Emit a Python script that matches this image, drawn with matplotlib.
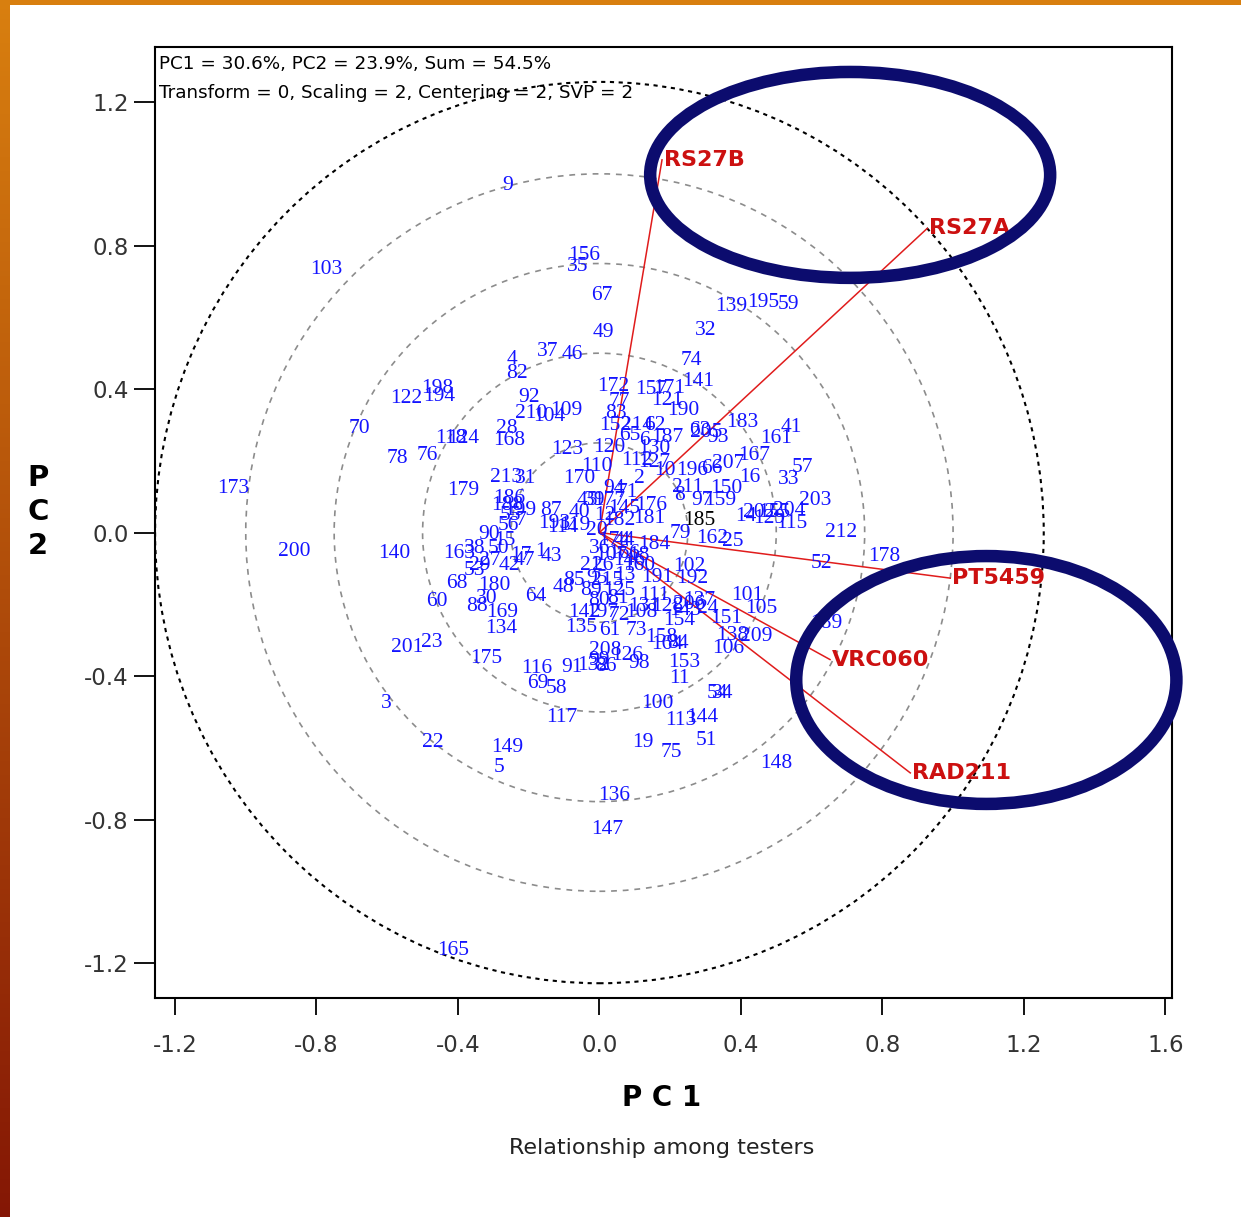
import matplotlib
matplotlib.use('Agg')
import matplotlib.pyplot as plt
import numpy as np
from matplotlib.patches import Circle, Ellipse, Rectangle

# testers (environment vectors)
testers = ["RS27B", "RS27A", "PT5459", "VRC060", "RAD211"]
tx = [0.177, 0.927, 0.992, 0.652, 0.879]
ty = [1.039, 0.848, -0.127, -0.354, -0.670]

# genotypes
g_lab = ["9", "103", "156", "35", "67", "49", "37", "46", "4", "82",
         "139", "195", "59", "32", "74", "141", "172", "77", "83", "157",
         "121", "190", "171", "183", "41", "161", "167", "207", "57", "16",
         "33", "203", "205", "93", "150", "196", "66", "185", "212", "52",
         "178", "115", "25", "162", "79", "181", "176", "184", "102", "191",
         "192", "101", "105", "189", "131", "128", "206", "24", "151", "73",
         "158", "84", "164", "138", "209", "106", "153", "11", "126", "98",
         "34", "54", "100", "113", "144", "19", "75", "51", "148", "136",
         "147", "165", "88", "169", "134", "201", "23", "175", "116", "69",
         "58", "91", "132", "86", "117", "3", "22", "149", "5", "135",
         "142", "197", "179", "186", "87", "45", "114", "140", "163", "90",
         "1", "43", "68", "180", "60", "30", "64", "48", "85", "122",
         "194", "198", "70", "78", "76", "118", "124", "92", "28", "168",
         "109", "210", "104", "123", "213", "31", "170", "120", "110", "173",
         "200", "152", "214", "62", "112", "127", "211", "94", "71", "2",
         "12", "36", "107", "26", "215", "13", "21", "125", "81", "174",
         "44", "18", "145", "39", "40", "119", "202", "155", "14", "204",
         "129", "159", "97", "8", "10", "130", "6", "187", "63", "65",
         "7", "15", "17", "27", "29", "38", "42", "47", "50", "53",
         "55", "56", "61", "72", "80", "89", "95", "99", "108", "111",
         "137", "143", "146", "160", "166", "177", "182", "188", "193", "199",
         "208", "20", "154"]
g_x = [-0.260, -0.772, -0.042, -0.062, 0.006, 0.011, -0.147, -0.076, -0.246, -0.232,
       0.373, 0.464, 0.534, 0.300, 0.260, 0.280, 0.040, 0.057, 0.048, 0.147,
       0.192, 0.238, 0.198, 0.404, 0.543, 0.501, 0.438, 0.365, 0.574, 0.424,
       0.535, 0.611, 0.303, 0.334, 0.359, 0.263, 0.317, 0.283, 0.684, 0.628,
       0.806, 0.543, 0.376, 0.320, 0.229, 0.141, 0.147, 0.156, 0.254, 0.164,
       0.263, 0.419, 0.458, 0.642, 0.127, 0.192, 0.255, 0.305, 0.359, 0.105,
       0.175, 0.223, 0.192, 0.376, 0.444, 0.365, 0.240, 0.226, 0.079, 0.113,
       0.348, 0.334, 0.164, 0.229, 0.291, 0.122, 0.204, 0.303, 0.501, 0.042,
       0.023, -0.413, -0.345, -0.274, -0.277, -0.543, -0.475, -0.320, -0.178, -0.175,
       -0.122, -0.079, -0.017, 0.017, -0.107, -0.602, -0.472, -0.260, -0.283, -0.051,
       -0.042, 0.008, -0.385, -0.255, -0.138, -0.034, -0.104, -0.580, -0.396, -0.311,
       -0.167, -0.136, -0.404, -0.297, -0.461, -0.320, -0.181, -0.102, -0.071, -0.546,
       -0.452, -0.458, -0.679, -0.571, -0.486, -0.419, -0.385, -0.198, -0.263, -0.255,
       -0.093, -0.192, -0.141, -0.090, -0.263, -0.209, -0.057, 0.028, -0.006, -1.035,
       -0.862, 0.045, 0.107, 0.156, 0.107, 0.156, 0.249, 0.042, 0.079, 0.113,
       0.014, 0.000, 0.034, 0.008, 0.023, 0.071, -0.025, 0.057, 0.051, 0.042,
       0.071, 0.113, 0.071, -0.014, -0.057, -0.071, 0.452, 0.495, 0.413, 0.537,
       0.481, 0.342, 0.291, 0.226, 0.184, 0.156, 0.127, 0.192, 0.283, 0.085,
       -0.223, -0.266, -0.223, -0.311, -0.339, -0.353, -0.255, -0.212, -0.286, -0.353,
       -0.252, -0.257, 0.028, 0.057, 0.000, -0.025, -0.006, 0.000, 0.119, 0.156,
       0.283, 0.243, 0.085, 0.113, 0.071, 0.028, 0.057, -0.260, -0.127, -0.223,
       0.017, -0.008, 0.226]
g_y = [0.967, 0.733, 0.772, 0.741, 0.661, 0.557, 0.505, 0.496, 0.482, 0.443,
       0.630, 0.641, 0.636, 0.563, 0.479, 0.421, 0.407, 0.365, 0.332, 0.399,
       0.368, 0.340, 0.401, 0.307, 0.293, 0.262, 0.215, 0.192, 0.181, 0.153,
       0.148, 0.089, 0.279, 0.265, 0.123, 0.173, 0.178, 0.033, 0.000, -0.086,
       -0.067, 0.025, -0.025, -0.017, -0.003, 0.039, 0.075, -0.033, -0.095, -0.125,
       -0.128, -0.176, -0.212, -0.254, -0.206, -0.206, -0.201, -0.212, -0.240, -0.273,
       -0.293, -0.309, -0.312, -0.287, -0.290, -0.323, -0.362, -0.407, -0.343, -0.365,
       -0.449, -0.449, -0.477, -0.524, -0.516, -0.585, -0.613, -0.580, -0.644, -0.733,
       -0.828, -1.165, -0.206, -0.223, -0.268, -0.321, -0.307, -0.351, -0.379, -0.421,
       -0.435, -0.376, -0.371, -0.374, -0.516, -0.477, -0.585, -0.599, -0.655, -0.265,
       -0.223, -0.223, 0.117, 0.095, 0.061, 0.089, 0.014, -0.059, -0.059, -0.006,
       -0.053, -0.068, -0.142, -0.148, -0.192, -0.184, -0.178, -0.153, -0.134, 0.374,
       0.379, 0.401, 0.290, 0.206, 0.215, 0.262, 0.262, 0.376, 0.290, 0.256,
       0.340, 0.332, 0.323, 0.231, 0.153, 0.151, 0.151, 0.237, 0.184, 0.123,
       -0.053, 0.298, 0.298, 0.298, 0.201, 0.195, 0.125, 0.123, 0.111, 0.151,
       0.047, -0.045, -0.064, -0.092, -0.134, -0.120, -0.092, -0.162, -0.184, -0.022,
       -0.022, -0.064, 0.067, 0.089, 0.056, 0.020, 0.056, 0.056, 0.045, 0.061,
       0.039, 0.089, 0.089, 0.103, 0.173, 0.234, 0.256, 0.265, 0.284, 0.270,
       0.033, -0.022, -0.064, -0.078, -0.092, -0.045, -0.092, -0.078, -0.045, -0.106,
       0.047, 0.020, -0.273, -0.231, -0.190, -0.162, -0.128, -0.357, -0.223, -0.176,
       -0.190, -0.217, -0.078, -0.092, -0.059, 0.089, 0.033, 0.075, 0.025, 0.061,
       -0.329, 0.006, -0.245]
black_labels = ["185"]

circle_r = [0.25, 0.5, 0.75, 1.0]

info1 = "PC1 = 30.6%, PC2 = 23.9%, Sum = 54.5%"
info2 = "Transform = 0, Scaling = 2, Centering = 2, SVP = 2"
xticks = [-1.2, -0.8, -0.4, 0.0, 0.4, 0.8, 1.2, 1.6]
yticks = [-1.2, -0.8, -0.4, 0.0, 0.4, 0.8, 1.2]

W, H = 1241, 1217
fig = plt.figure(figsize=(W / 100, H / 100), dpi=100)

# orange slide frame on left and top
bg = fig.add_axes([0, 0, 1, 1], zorder=-10)
grad = np.linspace(0, 1, 256).reshape(-1, 1)
top_c = np.array([0.85, 0.50, 0.06])
bot_c = np.array([0.52, 0.09, 0.02])
img = top_c[None, None, :] * (1 - grad[:, :, None]) + bot_c[None, None, :] * grad[:, :, None]
bg.imshow(img, aspect='auto', extent=[0, 1, 0, 1])
bg.add_patch(Rectangle((10 / W, 0), 1, 1 - 5 / H, color='white', lw=0))
bg.set_xlim(0, 1)
bg.set_ylim(0, 1)
bg.axis('off')

ax = fig.add_axes([155 / W, 1 - 998 / H, (1172 - 155) / W, (998 - 47) / H])
ax.set_xlim(-1.2566, 1.619)
ax.set_ylim(-1.2975, 1.3536)

for r in circle_r:
    ax.add_patch(Circle((0, 0), r, fill=False, ec='#8c8c8c', lw=1.2,
                        ls=(0, (3.5, 3.5))))
r_out = max(np.hypot(tx, ty))
ax.add_patch(Circle((0, 0), r_out, fill=False, ec='black', lw=1.5,
                    ls=(0, (2, 2.2))))

for lab, x, y in zip(g_lab, g_x, g_y):
    c = 'black' if lab in black_labels else '#1414ff'
    ax.text(x, y, lab, color=c, fontsize=15.5, family='Liberation Serif',
            ha='center', va='center')

for lab, x, y in zip(testers, tx, ty):
    ax.plot([0, x], [0, y], color='#e01c1c', lw=1.1)
    ax.text(x + 0.005, y, lab, color='#cc1010', fontsize=16, fontweight='bold',
            ha='left', va='center')

ax.add_patch(Ellipse((0.709, 0.997), 1.131, 0.574, fill=False, ec='#0c0c6e',
                     lw=9, clip_on=False, zorder=5))
ax.add_patch(Ellipse((1.094, -0.411), 1.075, 0.691, fill=False, ec='#0c0c6e',
                     lw=9, clip_on=False, zorder=5))

ax.text(0.004, 0.982, info1, transform=ax.transAxes, fontsize=13.2,
        ha='left', va='center')
ax.text(0.004, 0.952, info2, transform=ax.transAxes, fontsize=13.2,
        ha='left', va='center')

ax.set_xticks(xticks)
ax.set_yticks(yticks)
ax.set_xticklabels(["%.1f" % v for v in xticks])
ax.set_yticklabels(["%.1f" % v for v in yticks])
ax.tick_params(axis='x', length=12, width=1.3, pad=14, labelsize=16.5,
               labelcolor='#333333')
ax.tick_params(axis='y', length=15, width=1.3, pad=4, labelsize=16.5,
               labelcolor='#333333')
for s in ax.spines.values():
    s.set_linewidth(1.5)

fig.text(38 / W, 1 - 512 / H, "P\nC\n2", fontsize=21, fontweight='bold',
         ha='center', va='center', linespacing=1.25)
fig.text(662 / W, 1 - 1098 / H, "P C 1", fontsize=20, fontweight='bold',
         ha='center', va='center')
fig.text(662 / W, 1 - 1148 / H, "Relationship among testers", fontsize=16,
         color='#222222', ha='center', va='center')

fig.savefig('out.png', dpi=100)
